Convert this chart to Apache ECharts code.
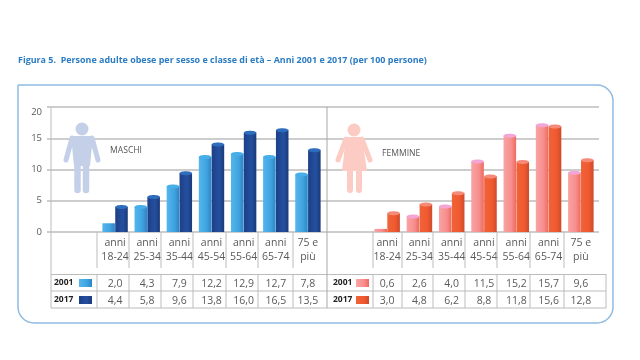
<!DOCTYPE html>
<html><head><meta charset="utf-8">
<style>html,body{margin:0;padding:0;background:#fff}#c{width:640px;height:360px}</style>
<script src="https://cdn.jsdelivr.net/npm/echarts@6/dist/echarts.min.js"></script>
</head><body><div id="c"></div>
<script>
const titleText = 'Figura 5.  Persone adulte obese per sesso e classe di età – Anni 2001 e 2017 (per 100 persone)';
const ageLabels = ['anni\n18-24','anni\n25-34','anni\n35-44','anni\n45-54','anni\n55-64','anni\n65-74','75 e\npiù'];
const yTicks = [0,5,10,15,20];
const maleBars2001 = [1.4,4.0,7.3,12.0,12.5,12.0,9.2];
const maleBars2017 = [4.0,5.6,9.4,14.0,15.9,16.3,13.1];
const femaleBars2001 = [0.5,2.5,4.1,11.3,15.4,17.1,9.5];
const femaleBars2017 = [3.0,4.4,6.2,8.9,11.2,16.9,11.5];
const maleTable2001 = ['2,0','4,3','7,9','12,2','12,9','12,7','7,8'];
const maleTable2017 = ['4,4','5,8','9,6','13,8','16,0','16,5','13,5'];
const femaleTable2001 = ['0,6','2,6','4,0','11,5','15,2','15,7','9,6'];
const femaleTable2017 = ['3,0','4,8','6,2','8,8','11,8','15,6','12,8'];

const GREY='#bcbcbc', TXT='#5a5a5a', NARROW='"Liberation Sans Narrow","Open Sans",sans-serif';
const grad=(a,b,c)=>({type:'linear',x:0,y:0,x2:1,y2:0,colorStops:[{offset:0,color:a},{offset:.6,color:b},{offset:1,color:c}]});
const pal={
  m1:{body:grad('#55b6ec','#3fa4e0','#2c86c8'),cap:'#46aee8'},
  m2:{body:grad('#1d3f86','#2450a0','#1b3a78'),cap:'#2e6cbc'},
  f1:{body:grad('#f9a3a3','#f78f8f','#ee6a5c'),cap:'#f3a6d6'},
  f2:{body:grad('#f0633a','#f05a30','#cf4a2a'),cap:'#f58a78'}
};
function cyl(p,side,flatBelow){
  return function(params,api){
    const v=api.value(1), top=api.coord([api.value(0),v]), base=api.coord([api.value(0),0]);
    const cw=api.size([1,0])[0], w=cw*0.39, cx=top[0]+side*cw*0.2;
    const ch=[{type:'rect',shape:{x:cx-w/2,y:top[1],width:w,height:base[1]-top[1]},style:{fill:p.body}}];
    if(v>flatBelow) ch.push({type:'ellipse',shape:{cx:cx,cy:top[1],rx:w/2,ry:2},style:{fill:p.cap}});
    return {type:'group',children:ch};
  };
}
function series(name,vals,p,side,axis){
  return {type:'custom',name:name,xAxisIndex:axis,yAxisIndex:axis===1?1:2,clip:false,
    encode:{x:0,y:1},renderItem:cyl(p,side,2),data:vals.map((v,i)=>[i,v])};
}
function cat(data,grid,offset,opts){
  return {type:'category',gridIndex:grid,data:data,offset:offset,position:'bottom',
    axisLine:{show:false},axisTick:{show:false},splitLine:{show:false},
    axisLabel:Object.assign({interval:0,margin:0,color:TXT,fontFamily:NARROW,fontSize:10.5,lineHeight:14},opts||{})};
}
const hiddenY=g=>({type:'value',gridIndex:g,min:0,max:20,interval:5,show:false});

const g=[];
const hl=(x1,y1,x2,y2,col,lw)=>g.push({type:'line',shape:{x1,y1,x2,y2},style:{stroke:col||GREY,lineWidth:lw||1},z:1});
[274.5,291,308].forEach(y=>hl(51,y,606,y));
hl(51,107,51,308); hl(327,107,327,308,'#a8a8a8');
[97,129,161,193,226,258,293, 373,402,433,465,497,530,564].forEach(x=>{hl(x,232,x,268);hl(x,274,x,308);});
hl(606,274,606,308);
// cornice
g.push({type:'rect',shape:{x:18,y:85,width:595,height:238,r:[0,16,16,16]},style:{fill:'transparent',stroke:'#8fbbe3',lineWidth:1.5},z:1});
// titolo ed etichette
g.push({type:'text',x:18,y:60,style:{text:titleText,fill:'#2b7cc2',font:'bold 8.95px "Open Sans",sans-serif',textVerticalAlign:'middle'}});
g.push({type:'text',x:110,y:151,style:{text:'MASCHI',fill:'#555',font:'8.6px "Open Sans",sans-serif',textVerticalAlign:'middle'}});
g.push({type:'text',x:382,y:154,style:{text:'FEMMINE',fill:'#555',font:'8.6px "Open Sans",sans-serif',textVerticalAlign:'middle'}});
[[54,283,'2001',79,pal.m1],[54,300,'2017',79,pal.m2],[333,283,'2001',356,pal.f1],[333,300,'2017',356,pal.f2]].forEach(r=>{
  g.push({type:'text',x:r[0],y:r[1],style:{text:r[2],fill:'#222',font:'bold 8.5px "Open Sans",sans-serif',textVerticalAlign:'middle'}});
  g.push({type:'rect',shape:{x:r[3],y:r[1]-4,width:13,height:8},style:{fill:r[4].body},z:2});
});
// figure
function man(c){
  const s=(pts,w)=>g.push({type:'polyline',shape:{points:pts},style:{stroke:c,lineWidth:w,lineCap:'round',lineJoin:'round',fill:'none'},z:2});
  g.push({type:'circle',shape:{cx:82,cy:129,r:6.5},style:{fill:c},z:2});
  g.push({type:'polygon',shape:{points:[[71,136],[93,136],[90,166],[74,166]]},style:{fill:c},z:2});
  s([[72,138],[66,160]],5); s([[92,138],[98,160]],5);
  s([[77.5,165],[77.5,190]],6.5); s([[86,165],[86,190]],6.5);
}
function woman(c){
  const s=(pts,w)=>g.push({type:'polyline',shape:{points:pts},style:{stroke:c,lineWidth:w,lineCap:'round',lineJoin:'round',fill:'none'},z:2});
  g.push({type:'circle',shape:{cx:354,cy:130,r:6.5},style:{fill:c},z:2});
  g.push({type:'polygon',shape:{points:[[346,137],[362,137],[367,171],[342,171]]},style:{fill:c},z:2});
  s([[346,139],[338,160]],5); s([[362,139],[370,160]],5);
  s([[350,170],[350,190]],6); s([[359,170],[359,190]],6);
}
man('#c4d0e8'); woman('#fcccc4');

const chart=echarts.init(document.getElementById('c'),null,{renderer:'canvas'});
chart.setOption({
  animation:false,backgroundColor:'#fff',
  grid:[
    {left:51,right:41,top:107,height:125},
    {left:99,width:225,top:107,height:125},
    {left:371,width:226,top:107,height:125}
  ],
  xAxis:[
    {type:'value',gridIndex:0,show:false,min:0,max:1},
    cat(ageLabels,1,4),
    cat(maleTable2001,1,45),
    cat(maleTable2017,1,62),
    cat(ageLabels,2,4),
    cat(femaleTable2001,2,45),
    cat(femaleTable2017,2,62)
  ],
  yAxis:[
    {type:'value',gridIndex:0,min:yTicks[0],max:yTicks[yTicks.length-1],interval:5,
     axisLine:{show:false},axisTick:{show:true,length:4,lineStyle:{color:GREY,width:1.5}},
     splitLine:{show:true,lineStyle:{color:GREY,width:1.5}},
     axisLabel:{color:TXT,fontFamily:'"Open Sans",sans-serif',fontSize:9.5,margin:9,
       formatter:v=>v===20?'{low|20}':String(v),
       rich:{low:{color:TXT,fontFamily:'"Open Sans",sans-serif',fontSize:9.5,padding:[10,0,0,0]}}}},
    hiddenY(1),hiddenY(2)
  ],
  graphic:{elements:g},
  series:[
    {type:'custom',xAxisIndex:0,yAxisIndex:0,data:[],renderItem:()=>null},
    series('2001',maleBars2001,pal.m1,-1,1),
    series('2017',maleBars2017,pal.m2,1,1),
    series('2001',femaleBars2001,pal.f1,-1,4),
    series('2017',femaleBars2017,pal.f2,1,4)
  ]
});
</script></body></html>
